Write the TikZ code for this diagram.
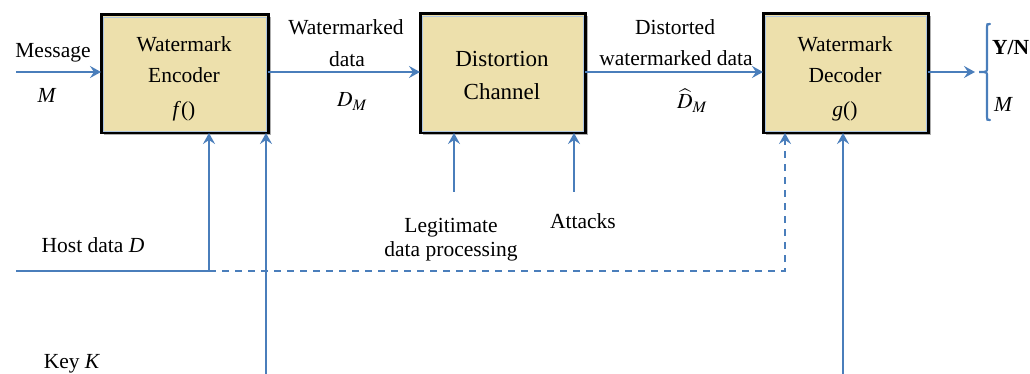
\documentclass[tikz,border=0pt]{standalone}
\usepackage{mathptmx}
\usepackage[no-math]{fontspec}
\setmainfont{Liberation Serif}
\newfontfamily\labelfont{Liberation Serif}
\usetikzlibrary{arrows.meta,shadows,calc}
\definecolor{flow}{HTML}{4A7EBB}
\definecolor{blockfill}{HTML}{EDE0AC}
\begin{document}
\begin{tikzpicture}[x=1pt,y=-1pt,
  txt/.style={font=\labelfont\fontsize{21.5}{24}\selectfont, inner sep=0pt, anchor=base},
  block/.style={draw=black, line width=3pt, fill=blockfill,
    drop shadow={shadow xshift=2.5pt, shadow yshift=-2.5pt, opacity=0.45, fill=black!70}},
  inner/.style={draw=flow!45, line width=0.8pt},
  flowline/.style={draw=flow, line width=2.2pt},
  flowarrow/.style={flowline, -{Stealth[length=11pt,width=12pt,inset=4pt]}},
  dashflow/.style={flowline, dash pattern=on 7pt off 6pt}]
\useasboundingbox (0,0) rectangle (1030,374);

% processing blocks
\path[block] (101,15) rectangle (268,133);
\path[block] (420,14) rectangle (585,133);
\path[block] (763,14) rectangle (928,133);
\draw[inner] (103,17) rectangle (266,131);
\draw[inner] (422,16) rectangle (583,131);
\draw[inner] (765,16) rectangle (926,131);

\coordinate (encW) at (101,72);
\coordinate (encE) at (268,72);
\coordinate (chW) at (420,72);
\coordinate (chE) at (585,72);
\coordinate (decW) at (763,72);
\coordinate (decE) at (928,72);
\coordinate (encHost) at (209,133);
\coordinate (encKey) at (266,133);
\coordinate (chLeg) at (454,133);
\coordinate (chAtk) at (574,133);
\coordinate (decHost) at (785,133);
\coordinate (decKey) at (843,133);

% block captions
\node[txt] at (184,52) {Watermark};
\node[txt] at (184,83) {Encoder};
\node[txt] at (184,117) {\textit{f}()};
\node[txt, font=\labelfont\fontsize{23}{26}\selectfont] at (502,67) {Distortion};
\node[txt, font=\labelfont\fontsize{23}{26}\selectfont] at (502,100) {Channel};
\node[txt] at (845,52) {Watermark};
\node[txt] at (845,83) {Decoder};
\node[txt] at (845,117) {\textit{g}()};

% signal sources and sinks
\coordinate (msg) at (16,72);
\coordinate (out) at (975,72);
\coordinate (host) at (16,271);
\coordinate (hostT) at (209,271);
\coordinate (hostC) at (785,271);
\coordinate (decHostS) at (785,145);
\coordinate (keyB) at (266,374);
\coordinate (key2B) at (843,374);
\coordinate (legB) at (454,192);
\coordinate (atkB) at (574,192);

% main data path
\draw[flowarrow] (msg) -- (encW);
\draw[flowarrow] (encE) -- (chW);
\draw[flowarrow] (chE) -- (decW);
\draw[flowarrow] (decE) -- (out);

% side inputs
\draw[flowline] (host) -- (hostT);
\draw[flowarrow] (hostT) -- (encHost);
\draw[dashflow] (hostT) -- (hostC) -- (decHostS);
\draw[flowarrow] (decHostS) -- (decHost);
\draw[flowarrow] (keyB) -- (encKey);
\draw[flowarrow] (key2B) -- (decKey);
\draw[flowarrow] (legB) -- (chLeg);
\draw[flowarrow] (atkB) -- (chAtk);

% output brace
\draw[flow, line width=2.2pt, line cap=round]
  (990,24) .. controls (987,24) .. (987,27) -- (987,68)
  .. controls (987,72) .. (979,72) .. controls (987,72) .. (987,76)
  -- (987,117) .. controls (987,120) .. (990,120);

% labels
\node[txt] at (53,58) {Message};
\node[txt] at (47,103) {\textit{M}};
\node[txt] at (346,35) {Watermarked};
\node[txt] at (347,67) {data};
\node[txt] at (352,107) {$D_M$};
\node[txt] at (675,35) {Distorted};
\node[txt] at (676,66) {watermarked data};
\node[txt] at (692,109) {$\widehat{D}_M$};
\node[txt, anchor=base west] at (992,55) {\textbf{Y/N}};
\node[txt, anchor=base west] at (994,112) {\textit{M}};
\node[txt] at (451,233) {Legitimate};
\node[txt] at (451,256) {data processing};
\node[txt] at (583,228) {Attacks};
\node[txt] at (93,252) {Host data \textit{D}};
\node[txt] at (72,368) {Key \textit{K}};
\end{tikzpicture}
\end{document}
